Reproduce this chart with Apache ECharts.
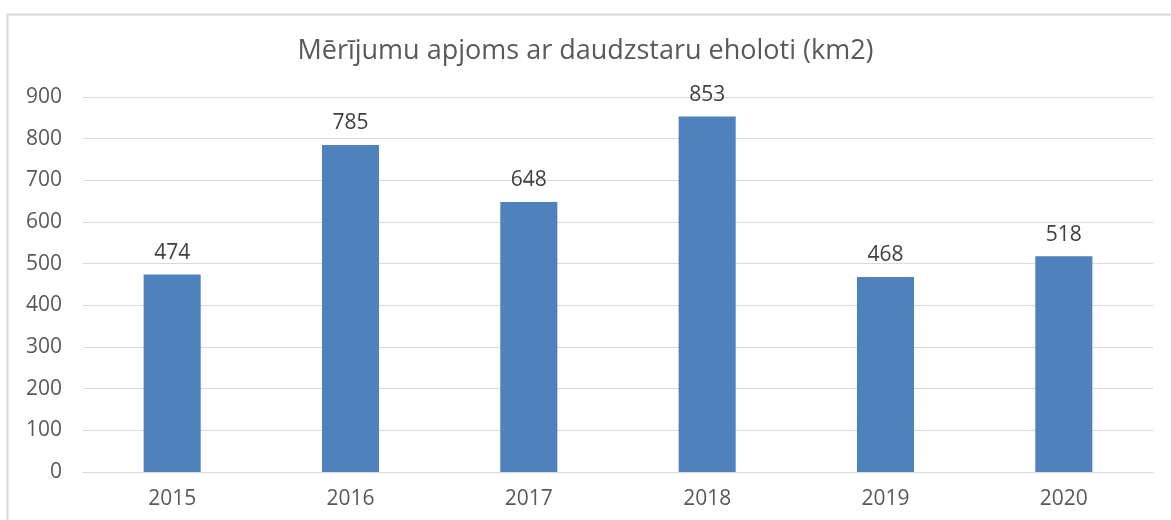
<!DOCTYPE html>
<html><head><meta charset="utf-8">
<script src="https://cdn.jsdelivr.net/npm/echarts@6/dist/echarts.min.js"></script>
<style>html,body{margin:0;padding:0;background:#fff}#c{width:1171px;height:520px}</style>
</head><body><div id="c"></div>
<script>
const categories = ['2015','2016','2017','2018','2019','2020'];
const values = [474, 785, 648, 853, 468, 518];
const yTicks = {min: 0, max: 900, interval: 100};
const titleText = 'Mērījumu apjoms ar daudzstaru eholoti (km2)';
const FONT = 'Open Sans';
const chart = echarts.init(document.getElementById('c'));
chart.setOption({
  animation: false,
  graphic: [{type:'rect', shape:{x:7.5,y:14.5,width:1200,height:600}, style:{fill:'none', stroke:'#d9d9d9', lineWidth:2}, z:-1}],
  title: {text: titleText, left: 'center', top: 33, textStyle:{fontFamily:FONT, fontSize:27, fontWeight:'normal', color:'#595959'}},
  grid: {left: 83, right: 18, top: 97, bottom: 48},
  xAxis: {type:'category', data: categories,
    axisLine:{lineStyle:{color:'#d9d9d9'}}, axisTick:{show:false},
    axisLabel:{fontFamily:FONT, fontSize:21, color:'#595959', margin:17}},
  yAxis: {type:'value', min:yTicks.min, max:yTicks.max, interval:yTicks.interval,
    axisLine:{show:false}, axisTick:{show:false},
    splitLine:{lineStyle:{color:'#d9d9d9'}},
    axisLabel:{fontFamily:FONT, fontSize:21, color:'#595959', margin:21}},
  series: [{type:'bar', data: values, barWidth:'32%', itemStyle:{color:'#4F81BD'},
    label:{show:true, position:'top', distance:11, fontFamily:FONT, fontSize:21, color:'#404040'}}]
});
</script></body></html>
